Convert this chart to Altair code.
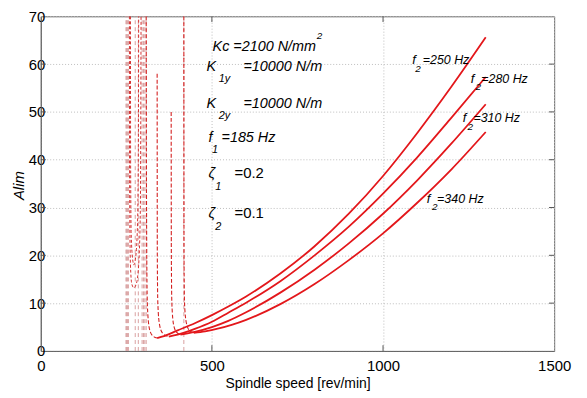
import altair as alt
import pandas as pd

# ---------------- data ----------------
x_ticks = [0, 500, 1000, 1500]
y_ticks = [0, 10, 20, 30, 40, 50, 60, 70]

# right (solid) branches of the lobes
rpm_250 = [340, 360, 400, 450, 500, 548, 600, 700, 800, 900, 1000, 1100, 1200, 1300]
alim_250 = [2.7, 3.1, 4.3, 5.8, 7.5, 9.3, 11.4, 16.2, 21.9, 28.7, 36.6, 45.6, 55.3, 65.6]
rpm_280 = [374, 400, 450, 500, 548, 600, 700, 800, 900, 1000, 1100, 1200, 1300]
alim_280 = [3.0, 3.4, 4.6, 6.1, 8.0, 10.1, 14.6, 20.0, 26.0, 32.9, 40.5, 48.8, 57.3]
rpm_310 = [408, 450, 500, 548, 600, 700, 800, 900, 1000, 1100, 1200, 1300]
alim_310 = [3.4, 4.0, 5.0, 6.3, 8.1, 12.2, 17.0, 22.5, 28.7, 35.7, 43.4, 51.6]
rpm_340 = [447, 480, 520, 560, 600, 700, 800, 900, 1000, 1100, 1200, 1300]
alim_340 = [3.8, 4.1, 4.7, 5.5, 6.5, 9.8, 14.0, 19.0, 24.6, 31.0, 38.0, 45.8]

# left (dashed) branches rising to the asymptotes
rpm_250_l = [308, 309, 311, 314, 320, 330, 340]
alim_250_l = [70, 30, 11, 6.5, 4.0, 3.0, 2.7]
rpm_280_l = [340, 340.5, 342, 347, 356, 374]
alim_280_l = [58, 20, 10, 5.5, 3.7, 3.0]
rpm_310_l = [381, 381.5, 383, 388, 396, 408]
alim_310_l = [50, 20, 10, 5.5, 4.0, 3.4]
rpm_340_l = [418, 418.5, 420, 425, 434, 447]
alim_340_l = [70, 20, 10, 6.0, 4.3, 3.8]

# small U-shaped lobes near 270 rev/min
rpm_u1 = [262, 262.5, 264, 268, 272, 277, 282, 285, 286]
alim_u1 = [70, 40, 25, 19.5, 18.0, 19.5, 25, 40, 70]
rpm_u2 = [259, 259.5, 262, 266, 272, 279, 286, 291, 293]
alim_u2 = [70, 35, 18, 14, 13.2, 14, 18, 30, 70]

# faint asymptote lines
asym_rpm = [249, 251, 253, 256, 276, 285, 296, 300, 304, 308, 418]

# annotation texts
param_main = ["Kc =2100 N/mm", "K", "=10000 N/m", "K", "=10000 N/m", "f", "=185 Hz", "\u03b6", "\u03b6"]
param_main_x = [502, 484, 592, 484, 592, 490, 528, 490, 490]
param_main_y = [62.7, 58.6, 58.6, 50.9, 50.9, 43.6, 43.6, 36.1, 27.8]
param_sub = ["1y", "2y", "1", "1", "2"]
param_sub_x = [520, 520, 500, 510, 510]
param_sub_y = [56.3, 48.6, 41.5, 33.6, 25.3]
param_up = ["=0.2", "=0.1"]
param_up_x = [566, 566]
param_up_y = [36.1, 27.8]
sup_text = ["2"]
sup_x = [806]
sup_y = [65.2]

curve_f_x = [1085, 1256, 1233, 1128]
curve_f_y = [60.0, 56.1, 47.8, 31.0]
curve_sub_x = [1094, 1270, 1247, 1143]
curve_sub_y = [58.4, 54.5, 46.2, 29.4]
curve_txt = ["=250 Hz", "=280 Hz", "=310 Hz", "=340 Hz"]
curve_txt_x = [1116, 1287, 1264, 1158]
curve_txt_y = [60.0, 56.1, 47.8, 31.0]

# ---------------- tables ----------------
def long(name, xs, ys):
    return pd.DataFrame({"rpm": xs, "alim": ys, "s": name, "o": range(len(xs))})

right = pd.concat([long("250", rpm_250, alim_250), long("280", rpm_280, alim_280),
                   long("310", rpm_310, alim_310), long("340", rpm_340, alim_340)])
left = pd.concat([long("250", rpm_250_l, alim_250_l), long("280", rpm_280_l, alim_280_l),
                  long("310", rpm_310_l, alim_310_l), long("340", rpm_340_l, alim_340_l)])
ulobes = pd.concat([long("u1", rpm_u1, alim_u1), long("u2", rpm_u2, alim_u2)])
asym = pd.DataFrame({"rpm": asym_rpm, "lo": y_ticks[0], "hi": y_ticks[-1]})

FONT = "Liberation Sans, Arial, sans-serif"
RED = "#e3171b"

xs = alt.Scale(domain=[x_ticks[0], x_ticks[-1]], nice=False)
ys = alt.Scale(domain=[y_ticks[0], y_ticks[-1]], nice=False)

X = alt.X("rpm:Q", scale=xs, axis=alt.Axis(
    values=x_ticks, format="d", title="Spindle speed [rev/min]", grid=True, gridDash=[1, 2],
    gridColor="#bdbdbd", domainColor="#666666", tickSize=0, labelFont=FONT,
    labelFontSize=15, labelColor="black", labelPadding=8, titleFont=FONT,
    titleFontSize=14, titleFontWeight="normal", titleColor="black", titlePadding=3,
    labelFlush=False))
Y = alt.Y("alim:Q", scale=ys, axis=alt.Axis(
    values=y_ticks, title="Alim", grid=True, gridDash=[1, 2], gridColor="#bdbdbd",
    domainColor="#666666", tickSize=0, labelFont=FONT, labelFontSize=15,
    labelColor="black", labelPadding=-4, titleFont=FONT, titleFontSize=15,
    titleFontStyle="italic", titleFontWeight="normal", titleColor="black",
    titleX=-14, titleY=170, labelFlush=False))

base_axes = alt.Chart(pd.DataFrame({"rpm": [0], "alim": [0]})).mark_point(opacity=0).encode(x=X, y=Y)

asym_layer = alt.Chart(asym).mark_rule(color="#d9a0a0", strokeDash=[4, 3], strokeWidth=1, clip=True).encode(
    x=alt.X("rpm:Q", scale=xs), y=alt.Y("lo:Q", scale=ys), y2="hi:Q")

u_layer = alt.Chart(ulobes).mark_line(color="#d63030", strokeDash=[3, 2], strokeWidth=1,
                                      interpolate="monotone", clip=True).encode(
    x=alt.X("rpm:Q", scale=xs), y=alt.Y("alim:Q", scale=ys), detail="s:N", order="o:Q")

left_layer = alt.Chart(left).mark_line(color="#d42020", strokeDash=[4, 2], strokeWidth=1.1,
                                       interpolate="monotone", clip=True).encode(
    x=alt.X("rpm:Q", scale=xs), y=alt.Y("alim:Q", scale=ys), detail="s:N", order="o:Q")

right_layer = alt.Chart(right).mark_line(color=RED, strokeWidth=1.8, interpolate="monotone", clip=True).encode(
    x=alt.X("rpm:Q", scale=xs), y=alt.Y("alim:Q", scale=ys), detail="s:N", order="o:Q")

# inward ticks (MATLAB style)
bt = pd.DataFrame({"rpm": x_ticks[1:-1], "lo": 0, "hi": 1.2})
tt = pd.DataFrame({"rpm": x_ticks[1:-1], "lo": 68.8, "hi": 70})
lt = pd.DataFrame({"alim": y_ticks[1:-1], "lo": 0, "hi": 15})
rt = pd.DataFrame({"alim": y_ticks[1:-1], "lo": 1485, "hi": 1500})
tick_v = alt.Chart(pd.concat([bt, tt])).mark_rule(color="#555555").encode(
    x=alt.X("rpm:Q", scale=xs), y=alt.Y("lo:Q", scale=ys), y2="hi:Q")
tick_h = alt.Chart(pd.concat([lt, rt])).mark_rule(color="#555555").encode(
    y=alt.Y("alim:Q", scale=ys), x=alt.X("lo:Q", scale=xs), x2="hi:Q")

def text_layer(txt, xv, yv, size, style="italic", font=FONT):
    df = pd.DataFrame({"rpm": xv, "alim": yv, "t": txt})
    return alt.Chart(df).mark_text(align="left", baseline="alphabetic", fontSize=size,
                                   fontStyle=style, font=font, color="black").encode(
        x=alt.X("rpm:Q", scale=xs), y=alt.Y("alim:Q", scale=ys), text="t:N")

texts = [
    text_layer(param_main, param_main_x, param_main_y, 14.5),
    text_layer(param_sub, param_sub_x, param_sub_y, 11),
    text_layer(param_up, param_up_x, param_up_y, 15, style="normal"),
    text_layer(sup_text, sup_x, sup_y, 10),
    text_layer(["f"] * 4, curve_f_x, curve_f_y, 13),
    text_layer(["2"] * 4, curve_sub_x, curve_sub_y, 10),
    text_layer(curve_txt, curve_txt_x, curve_txt_y, 12.5),
]

chart = alt.layer(base_axes, asym_layer, u_layer, left_layer, right_layer, tick_v, tick_h, *texts).properties(
    width=517, height=337, autosize=alt.AutoSizeParams(type="none"),
    padding={"left": 33, "top": 7, "right": 25, "bottom": 40},
    background="white",
).configure_view(stroke="#666666", strokeWidth=1)

chart.save("out.html", embed_options={"renderer": "svg", "actions": False})
